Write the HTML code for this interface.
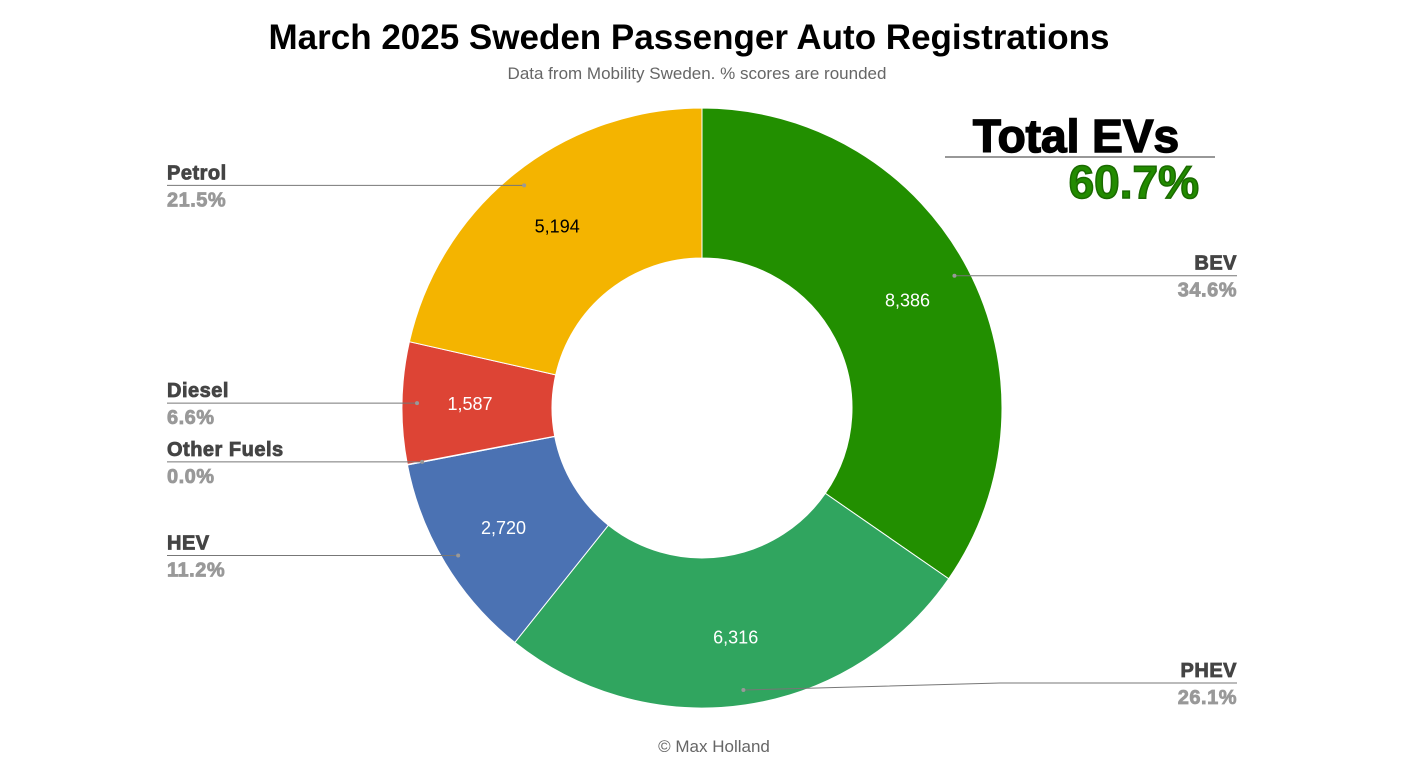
<!DOCTYPE html>
<html><head><meta charset="utf-8"><style>
html,body{margin:0;padding:0;background:#fff;}
svg{display:block;font-family:"Liberation Sans",Arial,sans-serif;}
.lab{font-weight:bold;font-size:20px;fill:#444;stroke:#444;stroke-width:0.8px;letter-spacing:0.5px;}
.pct{font-weight:bold;font-size:20px;fill:#999;stroke:#999;stroke-width:0.8px;letter-spacing:0.5px;}
</style></head><body>
<svg id="chart" width="1406" height="782">
<text x="689" y="49" text-anchor="middle" font-size="35" font-weight="bold" fill="#000">March 2025 Sweden Passenger Auto Registrations</text>
<text x="697" y="79" text-anchor="middle" font-size="17" fill="#666">Data from Mobility Sweden. % scores are rounded</text>
<text x="714" y="752" text-anchor="middle" font-size="17" fill="#666">© Max Holland</text>
<g>
<text x="1076" y="152" text-anchor="middle" font-size="46" font-weight="bold" fill="#000" stroke="#000" stroke-width="1.5">Total EVs</text>
<line x1="945" y1="157" x2="1215" y2="157" stroke="#777" stroke-width="1.5"/>
<text x="1199" y="198" text-anchor="end" font-size="46" font-weight="bold" fill="#228b00" stroke="#1a6a00" stroke-width="1.5">60.7%</text>
</g>
<g id="slices"></g>
<g id="labels"></g>
</svg>
<script>
const categories=["BEV","PHEV","HEV","Other Fuels","Diesel","Petrol"];
const values=[8386,6316,2720,8,1587,5194];
const colors=["#228f00","#30a55f","#4b72b3","#9e9e9e","#dd4435","#f4b400"];
const valueTextColors=["#fff","#fff","#fff","#fff","#fff","#000"];
const cx=702,cy=408,R=300,r=150;
const NS="http://www.w3.org/2000/svg";
const total=values.reduce((a,b)=>a+b,0);
function pt(a,rad){return [cx+rad*Math.sin(a),cy-rad*Math.cos(a)];}
const gs=document.getElementById('slices'),gl=document.getElementById('labels');
let a0=0;
values.forEach((v,i)=>{
 const a1=a0+v/total*2*Math.PI;
 const large=(a1-a0)>Math.PI?1:0;
 const p1=pt(a0,R),p2=pt(a1,R),p3=pt(a1,r),p4=pt(a0,r);
 const p=document.createElementNS(NS,'path');
 p.setAttribute('d',`M${p1}A${R},${R} 0 ${large} 1 ${p2}L${p3}A${r},${r} 0 ${large} 0 ${p4}Z`);
 p.setAttribute('fill',colors[i]);
 p.setAttribute('stroke','#fff');p.setAttribute('stroke-width','1');
 
 
 gs.appendChild(p);
 const am=(a0+a1)/2;
 if(v/total>0.03){
  const tp=pt(am,232);
  const t=document.createElementNS(NS,'text');
  t.setAttribute('x',tp[0]);t.setAttribute('y',tp[1]+6);
  t.setAttribute('text-anchor','middle');t.setAttribute('font-size','18');
  t.setAttribute('fill',valueTextColors[i]);
  t.textContent=v.toLocaleString('en-US');
  
  
  gl.appendChild(t);
 }
 const dp=pt(am,285);
 const right=Math.sin(am)>0;
 const ly=dp[1]+(categories[i]==="PHEV"?-7:0);
 const x2=right?1237:167;
 const pl=document.createElementNS(NS,'polyline');
 pl.setAttribute('points',`${dp[0]},${dp[1]} ${right?1000:dp[0]},${ly} ${x2},${ly}`);
 pl.setAttribute('fill','none');pl.setAttribute('stroke','#777');pl.setAttribute('stroke-width','1');
 
 
 gl.appendChild(pl);
 const c=document.createElementNS(NS,'circle');
 c.setAttribute('cx',dp[0]);c.setAttribute('cy',dp[1]);c.setAttribute('r','2');c.setAttribute('fill','#999');
 
 
 gl.appendChild(c);
 const anchor=right?'end':'start';
 const n=document.createElementNS(NS,'text');
 n.setAttribute('x',x2);n.setAttribute('y',ly-6);n.setAttribute('text-anchor',anchor);n.setAttribute('class','lab');
 n.textContent=categories[i];
 
 
 gl.appendChild(n);
 const q=document.createElementNS(NS,'text');
 q.setAttribute('x',x2);q.setAttribute('y',ly+21);q.setAttribute('text-anchor',anchor);q.setAttribute('class','pct');
 q.textContent=(v/total*100).toFixed(1)+'%';
 
 
 gl.appendChild(q);
 a0=a1;
});
</script>
</body></html>
